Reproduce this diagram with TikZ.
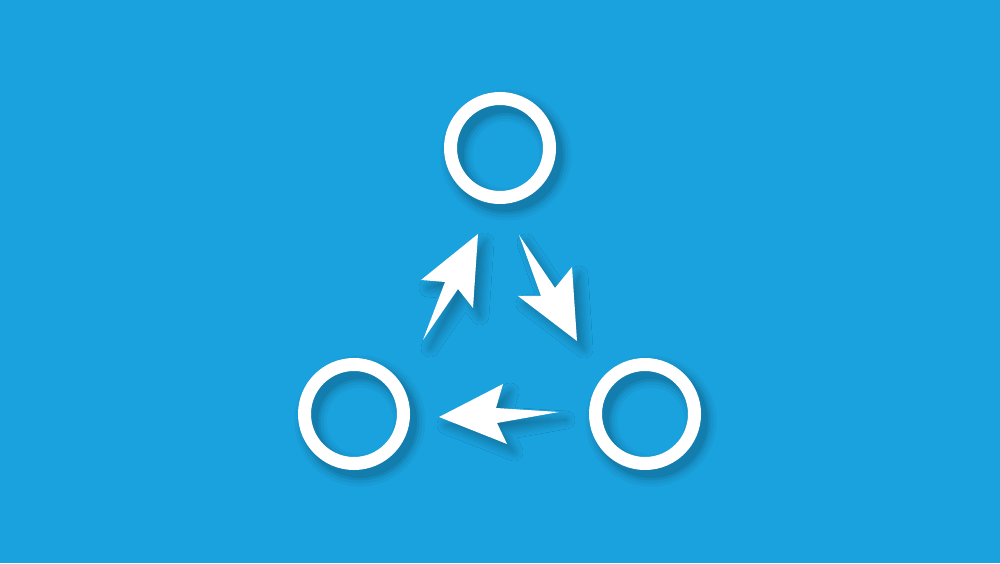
\documentclass[tikz,border=0pt]{standalone}
\usetikzlibrary{shadows.blur}
\definecolor{skyblue}{RGB}{26,162,222}
\tikzset{
  ring/.style = {circle,draw=white,line width=1.3mm,minimum size=9.9mm,inner sep=0pt},
  ringshade/.style = {circle,draw=black,draw opacity=#1,minimum size=9.9mm,inner sep=0pt},
  dart/.style = {fill=white,blur shadow={shadow xshift=0.7mm,shadow yshift=-0.8mm,
    shadow opacity=30,shadow blur radius=0.9mm,shadow blur steps=12}}
}

\begin{document}
\begin{tikzpicture}
  \useasboundingbox[fill=skyblue] (0,0) rectangle (10,5.63);
  % soft shadows under the rings
  \foreach \x/\y in {5.00/4.15,3.54/1.49,6.45/1.49}
    \foreach \w/\o in {3.2mm/0.035,2.6mm/0.05,2.0mm/0.07,1.5mm/0.08}
      \node[ringshade=\o,line width=\w] at (\x+0.06,\y-0.07) {};
  \node[ring] (ringtop)   at (5.00,4.15) {};
  \node[ring] (ringleft)  at (3.54,1.49) {};
  \node[ring] (ringright) at (6.45,1.49) {};
  % the three darts
  \fill[dart] (4.78,3.29) -- (4.21,2.83) -- (4.45,2.81) -- (4.23,2.23)
    -- (4.58,2.74) -- (4.73,2.55) -- cycle;
  \fill[dart] (5.19,3.28) -- (5.55,2.75) -- (5.72,2.96) -- (5.77,2.22)
    -- (5.18,2.67) -- (5.41,2.67) -- cycle;
  \fill[dart] (4.39,1.46) -- (5.03,1.79) -- (4.96,1.55) -- (5.59,1.51)
    -- (4.97,1.40) -- (5.07,1.19) -- cycle;
\end{tikzpicture}
\end{document}
